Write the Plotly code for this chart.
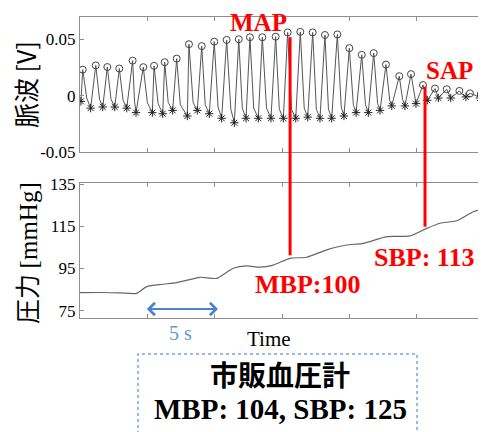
import plotly.graph_objects as go

# ---------------- data ----------------
peak_t = [0.2, 1.17, 2.03, 2.92, 3.91, 4.70, 5.50, 6.29, 7.18, 8.09, 9.04, 9.97, 10.89,
          11.79, 12.62, 13.54, 14.53, 15.42, 16.36, 17.28, 18.19, 19.11, 20.0, 20.92,
          21.81, 22.72, 23.71, 24.58, 25.47, 26.36, 27.23, 28.17, 28.96, 29.76]
peak_v = [0.0232, 0.027, 0.0255, 0.0242, 0.0312, 0.0254, 0.0266, 0.0298, 0.033, 0.0458,
          0.0441, 0.0481, 0.0496, 0.0502, 0.052, 0.052, 0.0525, 0.0563, 0.0568, 0.0563,
          0.054, 0.0545, 0.0423, 0.0364, 0.0379, 0.0277, 0.0174, 0.0192, 0.0095, 0.0064,
          0.0058, 0.0043, 0.0021, 0.0014]
trough_t = [0.07, 0.79, 1.69, 2.58, 3.47, 4.16, 5.37, 6.14, 6.88, 7.97, 8.71, 9.6, 10.52,
            11.46, 12.33, 13.24, 14.18, 15.1, 16.02, 16.91, 17.82, 18.69, 19.6, 20.5,
            21.41, 22.28, 23.15, 24.13, 24.95, 25.79, 26.61, 27.53, 28.66, 29.7]
trough_v = [-0.005, -0.011, -0.010, -0.010, -0.011, -0.015, -0.015, -0.016, -0.013,
            -0.018, -0.013, -0.016, -0.020, -0.024, -0.020, -0.020, -0.020, -0.020,
            -0.020, -0.019, -0.020, -0.020, -0.018, -0.015, -0.015, -0.013, -0.009,
            -0.009, -0.007, -0.004, -0.002, -0.002, -0.001, -0.002]
notch_t = [0.5, 1.45, 2.3, 3.2, 4.05, 5.0, 5.8, 6.55, 7.45, 8.4, 9.3, 10.25, 11.2, 12.05,
           12.9, 13.85, 14.8, 15.7, 16.65, 17.55, 18.45, 19.4, 20.3, 21.2, 22.1, 23.0,
           23.95, 24.85, 25.7, 26.5, 27.45, 28.4, 29.25, 30.0]
notch_v = [-0.002, -0.003, -0.003, -0.004, -0.005, -0.006, -0.007, -0.006, -0.008,
           -0.006, -0.008, -0.010, -0.012, -0.011, -0.011, -0.011, -0.012, -0.012,
           -0.011, -0.012, -0.012, -0.010, -0.008, -0.008, -0.007, -0.004, -0.003,
           -0.002, 0.000, 0.001, 0.001, 0.001, 0.001, 0.001]

press_t = [0, 1.5, 3.0, 4.21, 4.95, 6.16, 7.18, 8.91, 10.15, 11.38, 12.38, 13.37, 14.35,
           15.59, 16.83, 18.32, 19.8, 21.04, 22.78, 24.5, 25.75, 26.73, 27.97, 29.2,
           29.7, 30.0]
press_v = [83.5, 83.6, 83.4, 83.2, 86.4, 87.5, 88.3, 90.8, 90.3, 95.1, 96.2, 95.6, 96.6,
           99.8, 100.3, 103.8, 106.1, 106.9, 110.1, 110.4, 114.0, 116.4, 117.6, 121.9,
           122.7, 122.7]

map_t, map_v, map_p = 15.6, 0.052, 101.2
sap_t, sap_v, sap_p = 25.62, 0.008, 114.8
arrow_t = [4.85, 10.25]
arrow_p = 75.8

top_ticks = [-0.05, 0, 0.05]
top_ticklabels = ["-0.05", "0", "0.05"]
bot_ticks = [75, 95, 115, 135]
time_ticks = [0, 5, 10, 15, 20, 25, 30]

# ---------------- build waveform ----------------
wave_t, wave_v = [], []
for i in range(len(peak_t)):
    wave_t += [trough_t[i], peak_t[i], notch_t[i]]
    wave_v += [trough_v[i], peak_v[i], notch_v[i]]

# ---------------- layout helpers ----------------
OFF = 8                      # page body margin of the browser
W, H = 486 - OFF, 432 - OFF
PLOT_L, PLOT_R, PLOT_T, PLOT_B = 80, 484, 17, 318   # page pixel box of plot area
ML, MT = PLOT_L - OFF, PLOT_T - OFF
MR, MB = W - (PLOT_R - OFF), H - (PLOT_B - OFF)
PW, PH = PLOT_R - PLOT_L, PLOT_B - PLOT_T
TOP_D = [(PLOT_B - 152) / PH, 1.0]
BOT_D = [0.0, (PLOT_B - 183) / PH]
TOP_R = [-0.05, 0.07]
BOT_R = [71.5, 135.5]


def px(x):
    return (x - PLOT_L) / PW


def py(y):
    return (PLOT_B - y) / PH


def v2paper(v):
    return TOP_D[0] + (v - TOP_R[0]) / (TOP_R[1] - TOP_R[0]) * (TOP_D[1] - TOP_D[0])


def p2paper(p):
    return BOT_D[0] + (p - BOT_R[0]) / (BOT_R[1] - BOT_R[0]) * (BOT_D[1] - BOT_D[0])


SERIF = "Liberation Serif"
CJK = "Noto Sans CJK JP"
RED = "#ff0000"
AXC = "#8f8f8f"

fig = go.Figure()
fig.add_trace(go.Scatter(x=wave_t, y=wave_v, mode="lines",
                         line=dict(color="#555555", width=1), xaxis="x", yaxis="y",
                         showlegend=False, hoverinfo="skip"))
fig.add_trace(go.Scatter(x=peak_t, y=peak_v, mode="markers",
                         marker=dict(symbol="circle-open", size=7, color="#444444",
                                     line=dict(width=1)),
                         xaxis="x", yaxis="y", showlegend=False))
fig.add_trace(go.Scatter(x=trough_t, y=trough_v, mode="markers",
                         marker=dict(symbol="asterisk-open", size=7, color="#222222",
                                     line=dict(width=1, color="#222222")),
                         xaxis="x", yaxis="y", showlegend=False))
fig.add_trace(go.Scatter(x=press_t, y=press_v, mode="lines",
                         line=dict(color="#666666", width=1.2, shape="spline", smoothing=0.6),
                         xaxis="x2", yaxis="y2", showlegend=False))

axis_common = dict(showline=True, linecolor=AXC, linewidth=1, mirror="ticks",
                   ticks="inside", ticklen=4, tickcolor=AXC, tickwidth=1,
                   showgrid=False, zeroline=False)

fig.update_layout(
    width=W, height=H,
    margin=dict(l=ML, r=MR, t=MT, b=MB, pad=0),
    paper_bgcolor="white", plot_bgcolor="white",
    xaxis=dict(domain=[0, 1], range=[0, 30], anchor="y", tickvals=time_ticks,
               showticklabels=False, **axis_common),
    yaxis=dict(domain=TOP_D, range=TOP_R, anchor="x", tickvals=top_ticks,
               ticktext=top_ticklabels, tickfont=dict(family=SERIF, size=17, color="black"),
               **axis_common),
    xaxis2=dict(domain=[0, 1], range=[0, 30], anchor="y2", tickvals=time_ticks,
                showticklabels=False, **axis_common),
    yaxis2=dict(domain=BOT_D, range=BOT_R, anchor="x2", tickvals=bot_ticks,
                tickfont=dict(family=SERIF, size=17, color="black"), **axis_common),
)

shapes = [
    dict(type="line", xref="x", yref="paper", x0=map_t, x1=map_t,
         y0=p2paper(map_p), y1=v2paper(map_v), line=dict(color=RED, width=3)),
    dict(type="line", xref="x", yref="paper", x0=sap_t, x1=sap_t,
         y0=p2paper(sap_p), y1=v2paper(sap_v), line=dict(color=RED, width=3)),
    dict(type="rect", xref="paper", yref="paper", x0=px(138), x1=px(417),
         y0=py(445), y1=py(354), line=dict(color="#7aa6dc", width=1.5, dash="dot"),
         fillcolor="rgba(0,0,0,0)"),
]
fig.update_layout(shapes=shapes)


def ann(x, y, text, size, color="black", family=SERIF, angle=0, yanchor="middle"):
    return dict(xref="paper", yref="paper", x=x, y=y, text=text, showarrow=False,
                xanchor="center", yanchor=yanchor, textangle=angle, borderpad=0,
                font=dict(family=family, size=size, color=color))


annotations = [
    ann(px(25), py(84), "脈波 [V]", 25, family=CJK, angle=-90),
    ann(px(26), py(253), "圧力 <span style='font-family:Liberation Serif'>[mmHg]</span>",
        25, family=CJK, angle=-90),
    ann(px(258), py(OFF), "<b>MAP</b>", 25, RED, yanchor="top"),
    ann(px(449), py(70), "<b>SAP</b>", 25, RED),
    ann(px(307), py(284), "<b>MBP:100</b>", 26, RED),
    ann(px(424), py(257), "<b>SBP: 113</b>", 26, RED),
    ann(px(180), py(333), "5 s", 20, "#5b9bd5"),
    ann(px(269), py(339), "Time", 21),
    ann(px(280), py(374), "<b>市販血圧計</b>", 28, family=CJK),
    ann(px(280), py(409), "<b>MBP: 104, SBP: 125</b>", 29),
    dict(xref="x2", yref="y2", axref="x2", ayref="y2", x=arrow_t[1], y=arrow_p,
         ax=arrow_t[0], ay=arrow_p, text="", showarrow=True, arrowside="end+start",
         arrowhead=4, startarrowhead=4, arrowwidth=2, arrowsize=1.2, startarrowsize=1.2,
         arrowcolor="#4a82d4", standoff=0, startstandoff=0),
]
fig.update_layout(annotations=annotations)

fig.write_html("out.html")
